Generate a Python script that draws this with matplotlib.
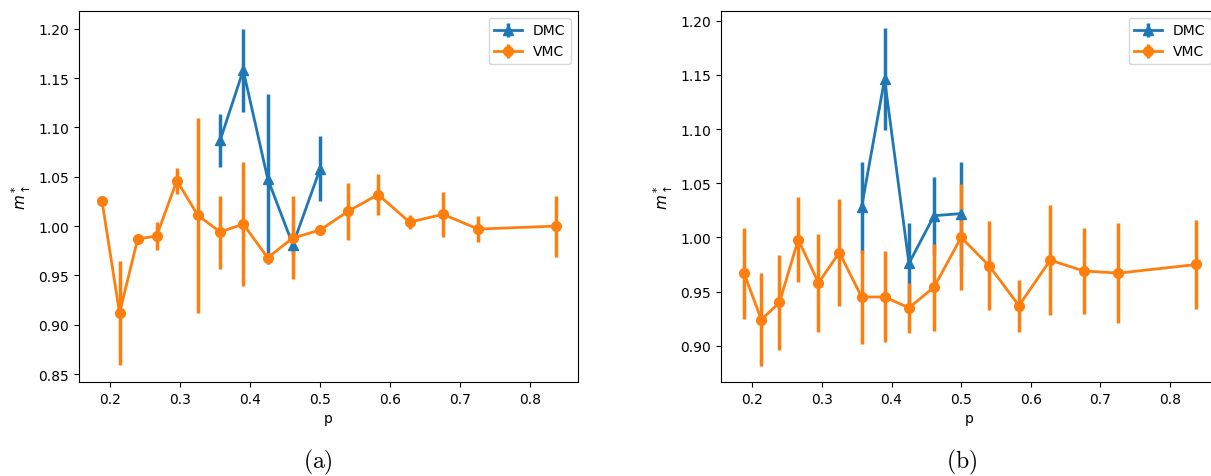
#!/usr/bin/env python3
"""
Effective mass m*_up versus polarisation p, DMC and VMC estimates,
shown for two data sets side by side.
"""
import numpy as np
import matplotlib
matplotlib.use("Agg")
import matplotlib.pyplot as plt

# polarisation values
p_vmc = [0.188, 0.213, 0.239, 0.266, 0.295, 0.325, 0.357, 0.390, 0.425,
         0.461, 0.500, 0.540, 0.583, 0.628, 0.676, 0.726, 0.838]
p_dmc = [0.357, 0.390, 0.425, 0.461, 0.500]

# panel (a)
dmc_a = [1.087, 1.158, 1.048, 0.981, 1.058]
dmc_a_err = [0.027, 0.042, 0.086, 0.010, 0.033]
vmc_a = [1.025, 0.912, 0.987, 0.990, 1.046, 1.011, 0.994, 1.002, 0.968,
         0.988, 0.996, 1.015, 1.032, 1.004, 1.012, 0.997, 1.000]
vmc_a_err = [0.002, 0.053, 0.002, 0.014, 0.013, 0.099, 0.037, 0.063, 0.003,
             0.042, 0.003, 0.029, 0.021, 0.007, 0.023, 0.013, 0.031]

# panel (b)
dmc_b = [1.028, 1.146, 0.976, 1.020, 1.022]
dmc_b_err = [0.042, 0.047, 0.037, 0.036, 0.048]
vmc_b = [0.967, 0.924, 0.940, 0.998, 0.958, 0.986, 0.945, 0.945, 0.935,
         0.954, 1.000, 0.974, 0.937, 0.979, 0.969, 0.967, 0.975]
vmc_b_err = [0.042, 0.043, 0.044, 0.039, 0.045, 0.049, 0.043, 0.042, 0.023,
             0.040, 0.049, 0.041, 0.024, 0.051, 0.040, 0.046, 0.041]

W, H = 1211, 477
fig = plt.figure(figsize=(W / 100, H / 100), dpi=100)


def panel(rect, dmc, dmc_err, vmc, vmc_err, ylim, caption, cap_x):
    x0, y0, x1, y1 = rect
    ax = fig.add_axes([x0 / W, 1 - y1 / H, (x1 - x0) / W, (y1 - y0) / H])
    ax.errorbar(p_dmc, dmc, yerr=dmc_err, marker='^', markersize=7,
                linewidth=2, elinewidth=2.5, color='C0', label='DMC')
    ax.errorbar(p_vmc, vmc, yerr=vmc_err, marker='o', markersize=7,
                linewidth=2, elinewidth=2.5, color='C1', label='VMC')
    ax.set_xlim(0.155, 0.869)
    ax.set_ylim(*ylim)
    ax.set_xticks([0.2, 0.3, 0.4, 0.5, 0.6, 0.7, 0.8])
    ax.set_xlabel('p')
    ax.set_ylabel(r'$m^*_\uparrow$', fontsize=11)
    ax.legend(loc='upper right')
    # sub-figure caption in Computer Modern
    fig.text(cap_x / W, 1 - 462 / H, r'$\mathrm{(' + caption + ')}$',
             ha='center', va='center', fontsize=17, math_fontfamily='cm')
    return ax


panel((79, 12, 578, 383), dmc_a, dmc_a_err, vmc_a, vmc_a_err,
      (0.842, 1.218), 'a', 318)
ax_b = panel((721, 12, 1218, 383), dmc_b, dmc_b_err, vmc_b, vmc_b_err,
             (0.8665, 1.209), 'b', 962)
ax_b.set_yticks([0.90, 0.95, 1.00, 1.05, 1.10, 1.15, 1.20])

fig.savefig('out.png', dpi=100)
